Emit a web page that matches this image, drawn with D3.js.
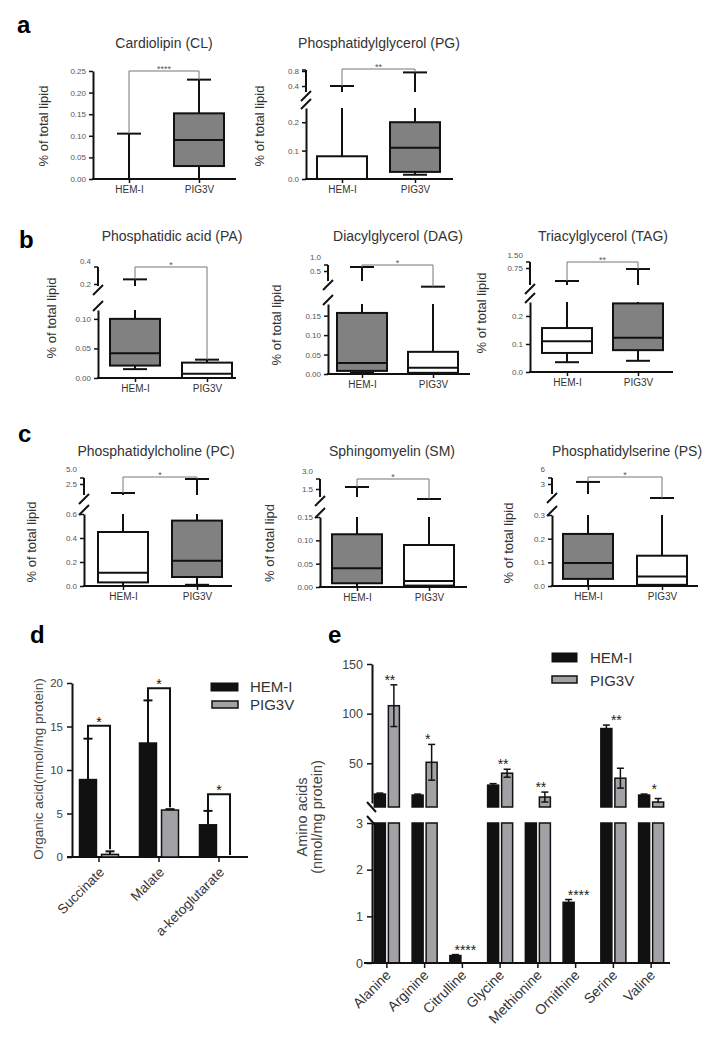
<!DOCTYPE html>
<html><head><meta charset="utf-8">
<script src="https://cdn.jsdelivr.net/npm/d3@7"></script>
<style>
body{margin:0;background:#fff;}
svg{display:block;background:#fff;}
</style></head><body>
<svg id="fig" width="718" height="1050"></svg>
<script>
// ================= DATA =================
const groups = ["HEM-I", "PIG3V"];
// box plots: [min, q1, median, q3, max] per group
const clStats  = [[0, 0, 0, 0, 0.105], [0, 0.03, 0.09, 0.152, 0.23]];
const pgStats  = [[0, 0, 0, 0.08, 0.4], [0.015, 0.025, 0.11, 0.2, 0.75]];
const paStats  = [[0.015, 0.021, 0.042, 0.1, 0.23], [0, 0, 0.007, 0.026, 0.031]];
const dagStats = [[0.004, 0.008, 0.028, 0.157, 0.61], [0, 0.003, 0.016, 0.057, 0.23]];
const tagStats = [[0.035, 0.068, 0.11, 0.157, 0.375], [0.04, 0.078, 0.122, 0.245, 0.71]];
const pcStats  = [[0, 0.03, 0.11, 0.45, 1.65], [0.01, 0.075, 0.21, 0.545, 3.15]];
const smStats  = [[0, 0.008, 0.04, 0.113, 1.62], [0, 0.003, 0.013, 0.09, 1.02]];
const psStats  = [[0, 0.03, 0.097, 0.22, 3.3], [0, 0.005, 0.04, 0.128, 1.57]];

const clTicks = [0, 0.05, 0.1, 0.15, 0.2, 0.25];
const pgTicksLow = [0, 0.1, 0.2], pgTicksUp = [0.4, 0.8];
const paTicksLow = [0, 0.05, 0.1], paTicksUp = [0.2, 0.4];
const dagTicksLow = [0, 0.05, 0.1, 0.15], dagTicksUp = [0.5, 1.0];
const tagTicksLow = [0, 0.1, 0.2], tagTicksUp = [0.75, 1.5];
const pcTicksLow = [0, 0.2, 0.4, 0.6], pcTicksUp = [2.5, 5.0];
const smTicksLow = [0, 0.05, 0.1, 0.15], smTicksUp = [1.5, 3.0];
const psTicksLow = [0, 0.1, 0.2, 0.3], psTicksUp = [3, 6];

// panel d
const organicCats = ["Succinate", "Malate", "a-ketoglutarate"];
const organicHem = [8.9, 13.1, 3.7];
const organicHemErr = [4.7, 4.9, 1.6];
const organicPig = [0.3, 5.4, 0];
const organicPigErr = [0.35, 0.1, 0];
const organicBracketAt = [15.1, 19.4, 7.2];
const organicSig = ["*", "*", "*"];
const organicTicks = [0, 5, 10, 15, 20];

// panel e
const aminoCats = ["Alanine", "Arginine", "Citrulline", "Glycine", "Methionine", "Ornithine", "Serine", "Valine"];
const aminoHem = [19, 18, 0.16, 28, 6, 1.3, 85, 18];
const aminoHemErr = [1, 1, 0.02, 1.5, 0, 0.06, 3.5, 1];
const aminoPig = [108, 51, 0, 40, 16, 0, 35, 11];
const aminoPigErr = [21, 18, 0, 4, 5, 0, 10, 3.5];
const aminoSig = ["**", "*", "****", "**", "**", "****", "**", "*"];
const aminoTicksUp = [50, 100, 150];
const aminoTicksLow = [0, 1, 2, 3];

// ================= DRAWING =================
const FONT = '"Liberation Sans", Arial, Helvetica, sans-serif';
const BOXGRAY = "#818181";
const BARGRAY = "#a2a2a6";
const INK = "#111";
const svg = d3.select("#fig").attr("font-family", FONT);

function seg(g, x1, y1, x2, y2, w, col) {
  return g.append("line").attr("x1", x1).attr("y1", y1).attr("x2", x2).attr("y2", y2)
    .attr("stroke", col || INK).attr("stroke-width", w || 2);
}
function styleAxis(sel, fs, col) {
  sel.attr("font-family", FONT).attr("font-size", fs);
  sel.select(".domain").attr("stroke", INK).attr("stroke-width", 2);
  sel.selectAll(".tick line").attr("stroke", INK).attr("stroke-width", 1.5);
  sel.selectAll(".tick text").attr("fill", col);
}

function boxPanel(c) {
  const g = svg.append("g");
  const lowMax = c.lowDomain[1];
  const yLow = d3.scaleLinear().domain(c.lowDomain).range(c.lowRange);
  const yUp = c.upTicks ? d3.scaleLog().domain(c.upTicks).range(c.upRange) : null;
  const x = d3.scalePoint().domain(groups).range(c.cx);
  const yBottom = c.lowRange[0];
  const yOf = v => (yUp && v > lowMax) ? yUp(v) : yLow(v);

  g.append("text").attr("x", c.titleX).attr("y", c.titleY).attr("text-anchor", "middle")
    .attr("font-size", 14).attr("fill", "#333").text(c.title);
  g.append("text").attr("transform", `translate(${c.ylabelX},${c.ylabelY}) rotate(-90)`)
    .attr("text-anchor", "middle").attr("font-size", 13).attr("fill", "#333").text(c.ylabel);

  const aL = g.append("g").attr("transform", `translate(${c.axisX},0)`)
    .call(d3.axisLeft(yLow).tickValues(c.lowTicks).tickFormat(d3.format(c.lowFmt))
      .tickSize(4).tickSizeOuter(0).tickPadding(3));
  styleAxis(aL, 8, "#555");

  if (yUp) {
    const aU = g.append("g").attr("transform", `translate(${c.axisX},0)`)
      .call(d3.axisLeft(yUp).tickValues(c.upTicks).tickFormat(d3.format(c.upFmt))
        .tickSize(4).tickSizeOuter(0).tickPadding(3));
    styleAxis(aU, 8, "#555");
    aU.select(".domain").remove();
    aU.selectAll(".tick").filter(d => yUp(d) < c.axisTop - 1).select("line").remove();
    seg(g, c.axisX, c.upBottom, c.axisX, c.axisTop, 2);
    seg(g, c.axisX - 4, c.axisTop, c.axisX, c.axisTop, 1.5);
    seg(g, c.axisX - 5, c.upBottom + 9, c.axisX + 5, c.upBottom - 1, 2);
    seg(g, c.axisX - 5, c.lowRange[1] + 1, c.axisX + 5, c.lowRange[1] - 9, 2);
  }

  const aB = g.append("g").attr("transform", `translate(0,${yBottom})`)
    .call(d3.axisBottom(x).tickSize(4).tickPadding(3));
  styleAxis(aB, 10, "#333");
  aB.select(".domain").remove();
  seg(g, c.axisX - 1, yBottom, c.axisEnd, yBottom, 2);

  const bw = 50, cw = 24;
  c.stats.forEach((s, i) => {
    const cx = x(groups[i]);
    const [mn, q1, md, q3, mx] = s;
    seg(g, cx, yLow(mn), cx, yLow(q1), 2);
    seg(g, cx, yLow(q3), cx, yLow(Math.min(mx, lowMax)), 2);
    if (yUp && mx > lowMax) {
      const yc = yUp(mx);
      if (yc < c.upBottom) seg(g, cx, c.upBottom, cx, yc, 2);
    }
    g.append("rect").attr("x", cx - bw / 2).attr("y", yLow(q3)).attr("width", bw)
      .attr("height", Math.max(0, yLow(q1) - yLow(q3)))
      .attr("fill", c.fills[i]).attr("stroke", INK).attr("stroke-width", 2);
    seg(g, cx - bw / 2, yLow(md), cx + bw / 2, yLow(md), 2);
    seg(g, cx - cw / 2, yLow(mn), cx + cw / 2, yLow(mn), 2);
    seg(g, cx - cw / 2, yOf(mx), cx + cw / 2, yOf(mx), 2);
  });

  const x1 = x(groups[0]), x2 = x(groups[1]);
  g.append("path")
    .attr("d", `M${x1},${yOf(c.stats[0][4])}V${c.bracketY}H${x2}V${yOf(c.stats[1][4])}`)
    .attr("fill", "none").attr("stroke", "#777").attr("stroke-width", 1);
  g.append("text").attr("x", (x1 + x2) / 2).attr("y", c.bracketY + 1).attr("text-anchor", "middle")
    .attr("font-size", 9).attr("fill", "#555").text(c.sig);
}

const W = "#ffffff";
boxPanel({stats: clStats, title: "Cardiolipin (CL)", titleX: 164, titleY: 48,
  ylabel: "% of total lipid", ylabelX: 48, ylabelY: 126,
  axisX: 93, axisEnd: 236, cx: [129, 199],
  lowDomain: [0, 0.25], lowRange: [179, 71], lowTicks: clTicks, lowFmt: ".2f",
  fills: [W, BOXGRAY], bracketY: 71, sig: "****"});
boxPanel({stats: pgStats, title: "Phosphatidylglycerol (PG)", titleX: 379, titleY: 48,
  ylabel: "% of total lipid", ylabelX: 264, ylabelY: 126,
  axisX: 306, axisEnd: 453, cx: [342, 415],
  lowDomain: [0, 0.25], lowRange: [179, 108], lowTicks: pgTicksLow, lowFmt: ".1f",
  upTicks: pgTicksUp, upRange: [86, 71], upBottom: 92, axisTop: 70, upFmt: ".1f",
  fills: [W, BOXGRAY], bracketY: 69, sig: "**"});

boxPanel({stats: paStats, title: "Phosphatidic acid (PA)", titleX: 172, titleY: 241,
  ylabel: "% of total lipid", ylabelX: 56, ylabelY: 318,
  axisX: 98, axisEnd: 236, cx: [135, 207],
  lowDomain: [0, 0.115], lowRange: [378, 310], lowTicks: paTicksLow, lowFmt: ".2f",
  upTicks: paTicksUp, upRange: [284, 261], upBottom: 286, axisTop: 267, upFmt: ".1f",
  fills: [BOXGRAY, W], bracketY: 267, sig: "*"});
boxPanel({stats: dagStats, title: "Diacylglycerol (DAG)", titleX: 398, titleY: 241,
  ylabel: "% of total lipid", ylabelX: 281, ylabelY: 325,
  axisX: 328, axisEnd: 470, cx: [362, 433],
  lowDomain: [0, 0.18], lowRange: [374, 304], lowTicks: dagTicksLow, lowFmt: ".2f",
  upTicks: dagTicksUp, upRange: [271, 257], upBottom: 281, axisTop: 265, upFmt: ".1f",
  fills: [BOXGRAY, W], bracketY: 265, sig: "*"});
boxPanel({stats: tagStats, title: "Triacylglycerol (TAG)", titleX: 603, titleY: 241,
  ylabel: "% of total lipid", ylabelX: 486, ylabelY: 313,
  axisX: 530, axisEnd: 673, cx: [567, 638],
  lowDomain: [0, 0.25], lowRange: [372, 302], lowTicks: tagTicksLow, lowFmt: ".1f",
  upTicks: tagTicksUp, upRange: [268, 255], upBottom: 285, axisTop: 262, upFmt: ".2f",
  fills: [W, BOXGRAY], bracketY: 262, sig: "**"});

boxPanel({stats: pcStats, title: "Phosphatidylcholine (PC)", titleX: 156, titleY: 456,
  ylabel: "% of total lipid", ylabelX: 36, ylabelY: 542,
  axisX: 84, axisEnd: 232, cx: [123, 197],
  lowDomain: [0, 0.6], lowRange: [586, 514], lowTicks: pcTicksLow, lowFmt: ".1f",
  upTicks: pcTicksUp, upRange: [484, 469], upBottom: 495, axisTop: 478, upFmt: ".1f",
  fills: [W, BOXGRAY], bracketY: 477, sig: "*"});
boxPanel({stats: smStats, title: "Sphingomyelin (SM)", titleX: 392, titleY: 456,
  ylabel: "% of total lipd", ylabelX: 274, ylabelY: 543,
  axisX: 320, axisEnd: 467, cx: [357, 429],
  lowDomain: [0, 0.15], lowRange: [587, 517], lowTicks: smTicksLow, lowFmt: ".2f",
  upTicks: smTicksUp, upRange: [489, 471], upBottom: 497, axisTop: 479, upFmt: ".1f",
  fills: [BOXGRAY, W], bracketY: 479, sig: "*"});
boxPanel({stats: psStats, title: "Phosphatidylserine (PS)", titleX: 627, titleY: 456,
  ylabel: "% of total lipid", ylabelX: 513, ylabelY: 543,
  axisX: 552, axisEnd: 698, cx: [588, 662],
  lowDomain: [0, 0.3], lowRange: [586, 515], lowTicks: psTicksLow, lowFmt: ".1f",
  upTicks: psTicksUp, upRange: [484, 469], upBottom: 494, axisTop: 478, upFmt: "d",
  fills: [BOXGRAY, W], bracketY: 477, sig: "*"});

// ---------- panel letters ----------
[["a", 17, 33], ["b", 19, 248], ["c", 18, 442], ["d", 30, 643], ["e", 328, 643]].forEach(([t, lx, ly]) => {
  svg.append("text").attr("x", lx).attr("y", ly).attr("font-size", 24).attr("font-weight", "bold")
    .attr("fill", "#000").text(t);
});

// ---------- panel d ----------
(function () {
  const g = svg.append("g");
  const y = d3.scaleLinear().domain([0, 20]).range([857, 683]);
  const x = d3.scaleBand().domain(organicCats).range([69, 249]).paddingInner(0.35).paddingOuter(0.175);
  const xi = d3.scaleBand().domain(groups).range([0, x.bandwidth()]).paddingInner(0.23);
  const aL = g.append("g").attr("transform", "translate(72,0)")
    .call(d3.axisLeft(y).tickValues(organicTicks).tickSize(5).tickSizeOuter(0).tickPadding(4));
  styleAxis(aL, 11.5, "#444");
  const aB = g.append("g").attr("transform", "translate(0,857)")
    .call(d3.axisBottom(x).tickSize(5).tickFormat(""));
  styleAxis(aB, 12, "#333");
  aB.select(".domain").remove();
  seg(g, 67, 857, 248, 857, 2);
  organicCats.forEach(cat => {
    g.append("text").attr("transform", `translate(${x(cat) + x.bandwidth() / 2 + 6},873) rotate(-45)`)
      .attr("text-anchor", "end").attr("font-size", 13.5).attr("fill", "#333").text(cat);
  });
  const series = [[organicHem, organicHemErr, INK], [organicPig, organicPigErr, BARGRAY]];
  organicCats.forEach((cat, i) => {
    const tops = [];
    series.forEach(([vals, errs, fill], k) => {
      const bx = x(cat) + xi(groups[k]), bwid = xi.bandwidth(), cx = bx + bwid / 2;
      const v = vals[i], e = errs[i];
      if (v > 0) {
        g.append("rect").attr("x", bx).attr("y", y(v)).attr("width", bwid).attr("height", y(0) - y(v))
          .attr("fill", fill).attr("stroke", INK).attr("stroke-width", 1.5);
      }
      if (e > 0) {
        seg(g, cx, y(v), cx, y(v + e), 2);
        seg(g, cx - 4.5, y(v + e), cx + 4.5, y(v + e), 2);
      }
      tops.push([cx, y(v + e)]);
    });
    const hb = y(organicBracketAt[i]);
    g.append("path").attr("d", `M${tops[0][0]},${tops[0][1]}V${hb}H${tops[1][0]}V${tops[1][1] - 2}`)
      .attr("fill", "none").attr("stroke", INK).attr("stroke-width", 2);
    g.append("text").attr("x", (tops[0][0] + tops[1][0]) / 2).attr("y", hb + 1).attr("text-anchor", "middle")
      .attr("font-size", 14).attr("fill", INK).text(organicSig[i]);
  });
  g.append("text").attr("transform", "translate(43,769) rotate(-90)").attr("text-anchor", "middle")
    .attr("font-size", 13.5).attr("fill", "#444").text("Organic acid(nmol/mg protein)");
  // legend
  g.append("rect").attr("x", 211).attr("y", 683).attr("width", 27).attr("height", 8).attr("fill", INK).attr("stroke", INK);
  g.append("rect").attr("x", 212).attr("y", 701).attr("width", 26).attr("height", 7).attr("fill", BARGRAY).attr("stroke", INK).attr("stroke-width", 1.5);
  g.append("text").attr("x", 250).attr("y", 692).attr("font-size", 15).attr("fill", "#333").text(groups[0]);
  g.append("text").attr("x", 250).attr("y", 710).attr("font-size", 15).attr("fill", "#333").text(groups[1]);
})();

// ---------- panel e ----------
(function () {
  const g = svg.append("g");
  const yU = d3.scaleLinear().domain([10, 150]).range([803, 664]);
  const yL = d3.scaleLinear().domain([0, 3]).range([963, 823]);
  const upMin = yU.domain()[0], lowMax = yL.domain()[1];
  const upBase = yU.range()[0] + 4;
  const x = d3.scaleBand().domain(aminoCats).range([368, 670]).paddingInner(0.337).paddingOuter(0.1685);
  const xi = d3.scaleBand().domain(groups).range([0, x.bandwidth()]).paddingInner(0.214);
  const yOf = v => v > lowMax ? yU(Math.max(v, upMin)) : yL(v);

  const aU = g.append("g").attr("transform", "translate(372,0)")
    .call(d3.axisLeft(yU).tickValues(aminoTicksUp).tickFormat(d3.format("d")).tickSize(5).tickSizeOuter(0).tickPadding(4));
  styleAxis(aU, 12.5, "#444");
  const aL = g.append("g").attr("transform", "translate(372,0)")
    .call(d3.axisLeft(yL).tickValues(aminoTicksLow).tickFormat(d3.format("d")).tickSize(5).tickSizeOuter(0).tickPadding(4));
  styleAxis(aL, 12.5, "#444");
  seg(g, 367, 802, 376, 812, 2);
  seg(g, 367, 816, 376, 826, 2);
  const aB = g.append("g").attr("transform", "translate(0,963)")
    .call(d3.axisBottom(x).tickSize(5).tickFormat(""));
  styleAxis(aB, 12, "#333");
  aB.select(".domain").remove();

  const series = [[aminoHem, aminoHemErr, INK], [aminoPig, aminoPigErr, BARGRAY]];
  aminoCats.forEach((cat, i) => {
    series.forEach(([vals, errs, fill], k) => {
      const bx = x(cat) + xi(groups[k]), bwid = xi.bandwidth(), cx = bx + bwid / 2;
      const v = vals[i], e = errs[i];
      if (v > 0) {
        g.append("rect").attr("x", bx).attr("y", yL(Math.min(v, lowMax))).attr("width", bwid)
          .attr("height", yL(0) - yL(Math.min(v, lowMax)))
          .attr("fill", fill).attr("stroke", INK).attr("stroke-width", 1.5);
      }
      if (v > upMin) {
        g.append("rect").attr("x", bx).attr("y", yU(v)).attr("width", bwid).attr("height", upBase - yU(v))
          .attr("fill", fill).attr("stroke", INK).attr("stroke-width", 1.5);
      }
      if (e > 0 && v > upMin) {
        const lo = Math.max(v - e, upMin);
        seg(g, cx, yU(lo), cx, yU(v + e), 1.5);
        seg(g, cx - 3.5, yU(v + e), cx + 3.5, yU(v + e), 1.5);
        if (v - e > upMin) seg(g, cx - 3.5, yU(v - e), cx + 3.5, yU(v - e), 1.5);
      } else if (e > 0 && v > 0 && v <= lowMax) {
        seg(g, cx, yL(v), cx, yL(v + e), 1.5);
        seg(g, cx - 3.5, yL(v + e), cx + 3.5, yL(v + e), 1.5);
      }
    });
    const top = Math.max(aminoHem[i] + aminoHemErr[i], aminoPig[i] + aminoPigErr[i]);
    g.append("text").attr("x", x(cat) + x.bandwidth() / 2 + 3).attr("y", yOf(top))
      .attr("text-anchor", "middle").attr("font-size", 14).attr("fill", "#222").text(aminoSig[i]);
  });
  seg(g, 364, 963, 670, 963, 2);
  aminoCats.forEach(cat => {
    g.append("text").attr("transform", `translate(${x(cat) + x.bandwidth() / 2 + 5},976) rotate(-45)`)
      .attr("text-anchor", "end").attr("font-size", 14).attr("fill", "#333").text(cat);
  });
  const yl = g.append("text").attr("transform", "translate(307,817) rotate(-90)").attr("text-anchor", "middle")
    .attr("font-size", 14.5).attr("fill", "#444");
  yl.append("tspan").attr("x", 0).attr("dy", 0).text("Amino acids");
  yl.append("tspan").attr("x", 0).attr("dy", 15).text("(nmol/mg protein)");
  // legend
  g.append("rect").attr("x", 552).attr("y", 653).attr("width", 25).attr("height", 9).attr("fill", INK).attr("stroke", INK);
  g.append("rect").attr("x", 552).attr("y", 676).attr("width", 25).attr("height", 7).attr("fill", BARGRAY).attr("stroke", INK).attr("stroke-width", 1.5);
  g.append("text").attr("x", 590).attr("y", 663).attr("font-size", 15).attr("fill", "#333").text(groups[0]);
  g.append("text").attr("x", 590).attr("y", 686).attr("font-size", 15).attr("fill", "#333").text(groups[1]);
})();
</script>
</body></html>
